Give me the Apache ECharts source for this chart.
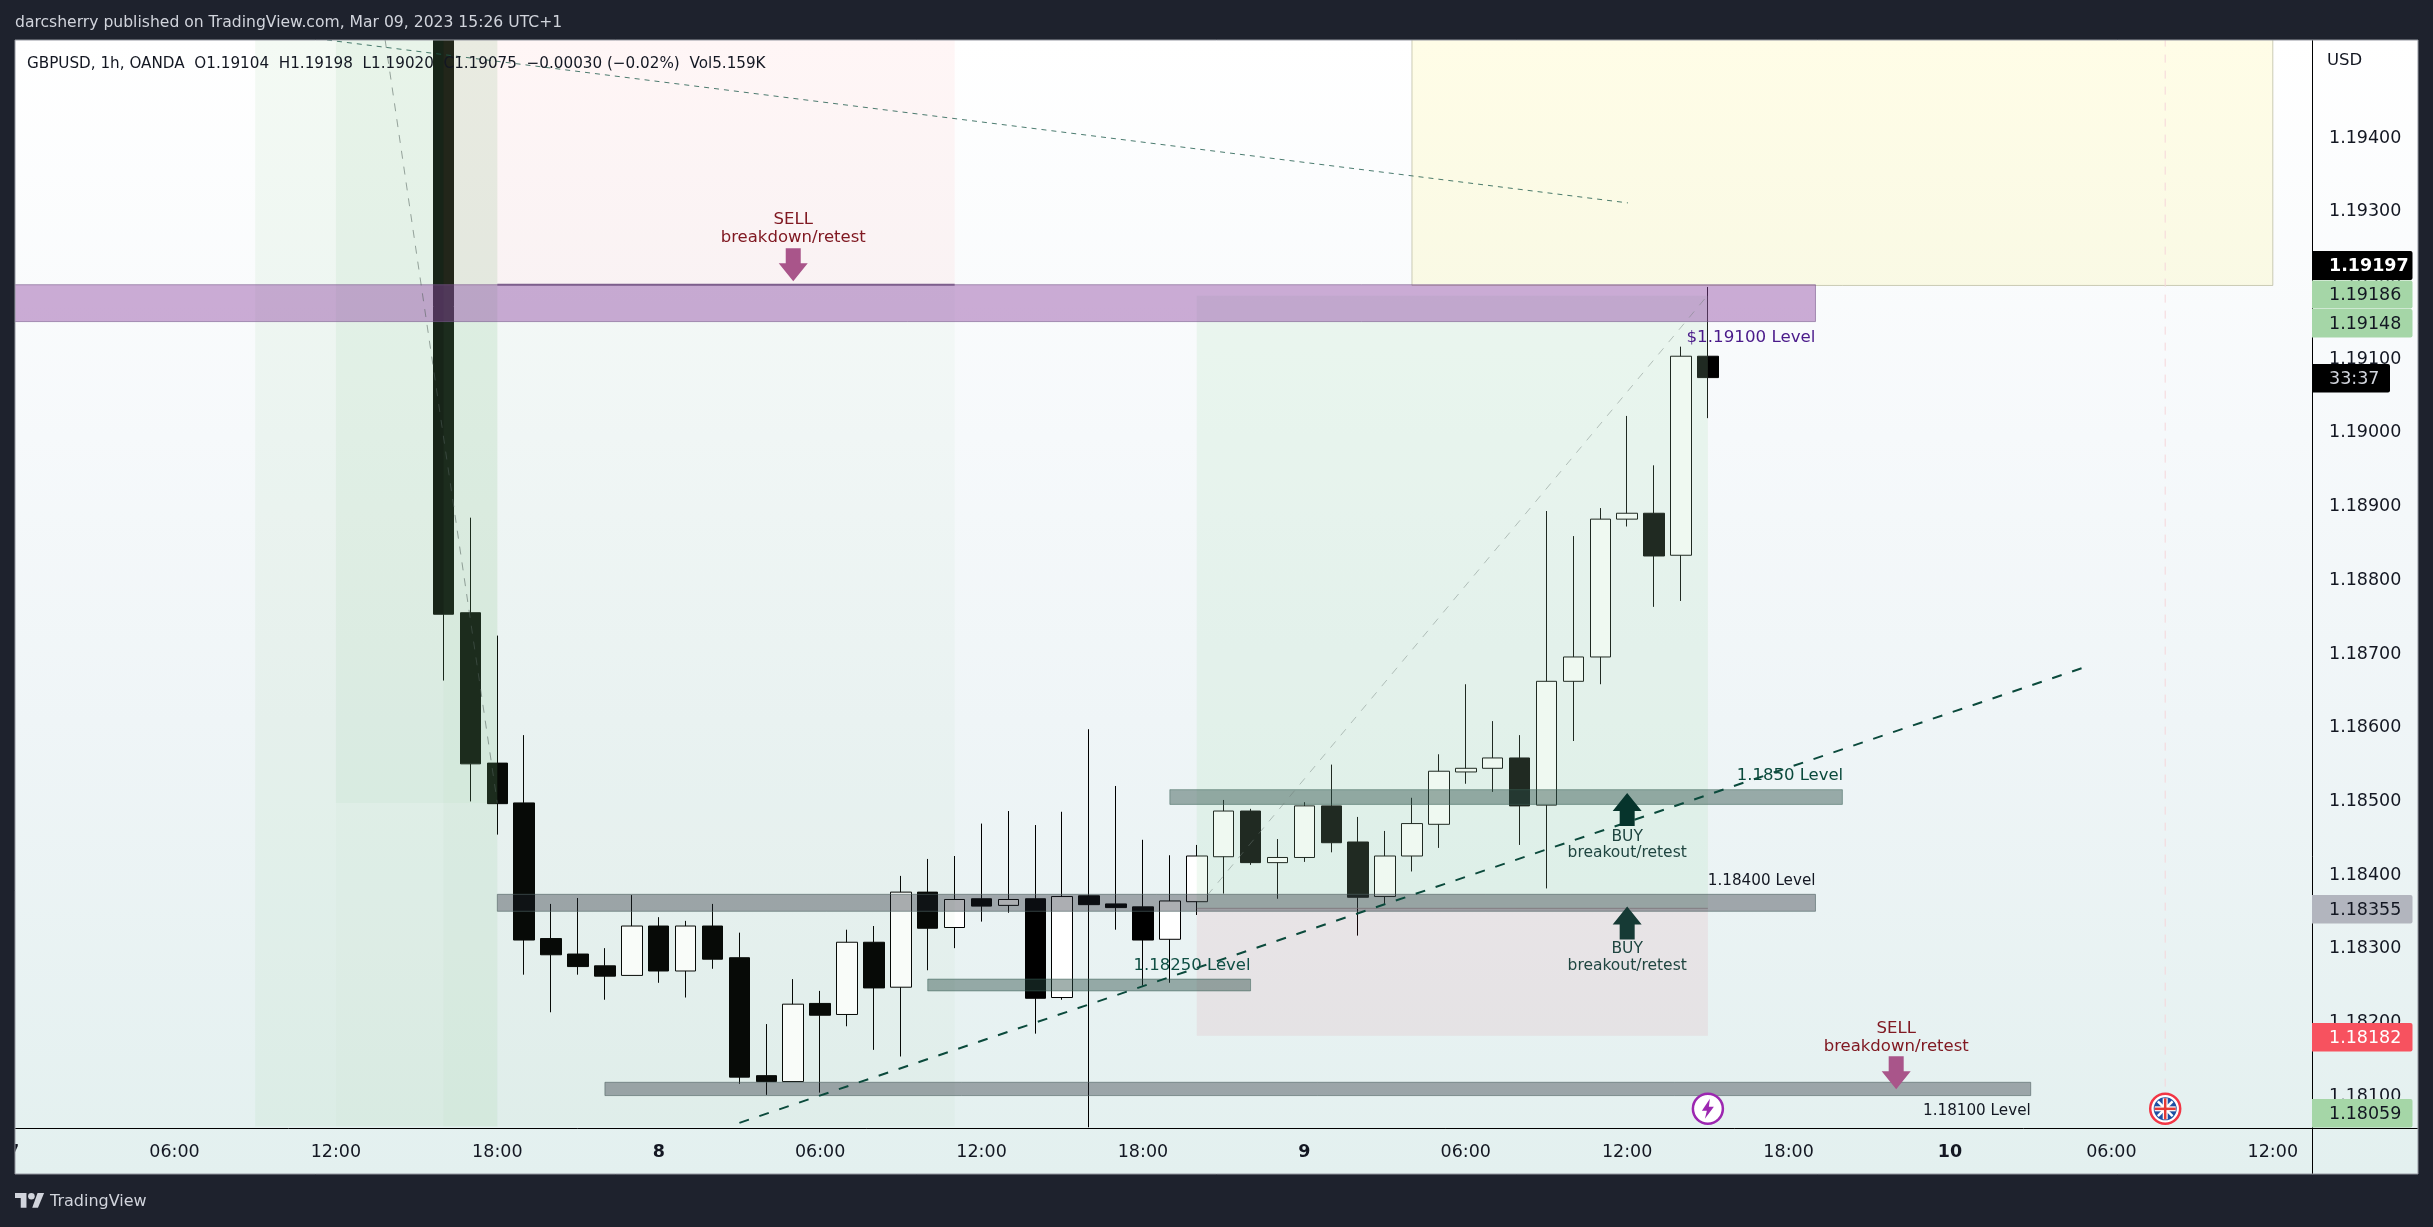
<!DOCTYPE html>
<html>
<head>
<meta charset="utf-8">
<title>GBPUSD 1h</title>
<style>
  html, body { margin: 0; padding: 0; background: #1e222d; }
  #chart { width: 2433px; height: 1227px; }
</style>
<script src="https://cdn.jsdelivr.net/npm/echarts@6/dist/echarts.min.js"></script>
</head>
<body>
<div id="chart"></div>
<script>
// x axis is hours from 8 Mar 00:00
const candleHours = [-8,-7,-6,-5,-4,-3,-2,-1,0,1,2,3,4,5,6,7,8,9,10,11,12,13,14,15,16,17,18,19,20,21,22,23,24,25,26,27,28,29,30,31,32,33,34,35,36,37,38,39]
const opens = [1.19900,1.18756,1.18552,1.18498,1.18314,1.18293,1.18277,1.18264,1.18331,1.18270,1.18331,1.18288,1.18128,1.18120,1.18226,1.18211,1.18309,1.18248,1.18377,1.18329,1.18368,1.18359,1.18368,1.18234,1.18372,1.18361,1.18357,1.18313,1.18364,1.18425,1.18487,1.18417,1.18424,1.18494,1.18445,1.18371,1.18426,1.18469,1.18540,1.18545,1.18559,1.18495,1.18663,1.18696,1.18883,1.18891,1.18834,1.19104]
const closes = [1.18754,1.18551,1.18497,1.18312,1.18292,1.18276,1.18263,1.18331,1.18270,1.18331,1.18286,1.18126,1.18120,1.18225,1.18210,1.18309,1.18247,1.18377,1.18328,1.18367,1.18358,1.18367,1.18233,1.18371,1.18360,1.18356,1.18312,1.18365,1.18426,1.18487,1.18417,1.18424,1.18494,1.18444,1.18370,1.18426,1.18470,1.18541,1.18545,1.18559,1.18494,1.18663,1.18696,1.18883,1.18891,1.18833,1.19104,1.19075]
const lows = [1.18664,1.18500,1.18455,1.18265,1.18214,1.18265,1.18231,1.18264,1.18254,1.18234,1.18273,1.18117,1.18102,1.18120,1.18105,1.18195,1.18163,1.18154,1.18271,1.18301,1.18337,1.18349,1.18185,1.18231,1.18058,1.18326,1.18250,1.18254,1.18346,1.18375,1.18414,1.18368,1.18418,1.18431,1.18318,1.18360,1.18405,1.18437,1.18524,1.18513,1.18441,1.18382,1.18582,1.18659,1.18873,1.18764,1.18772,1.19020]
const highs = [1.19950,1.18885,1.18725,1.18590,1.18361,1.18369,1.18301,1.18373,1.18343,1.18338,1.18361,1.18322,1.18198,1.18259,1.18243,1.18326,1.18331,1.18399,1.18422,1.18426,1.18470,1.18487,1.18468,1.18486,1.18598,1.18521,1.18448,1.18427,1.18441,1.18502,1.18490,1.18449,1.18499,1.18550,1.18479,1.18460,1.18505,1.18564,1.18659,1.18609,1.18590,1.18894,1.18860,1.18898,1.19023,1.18956,1.19117,1.19198]

const priceTicks = [1.181,1.182,1.183,1.184,1.185,1.186,1.187,1.188,1.189,1.190,1.191,1.192,1.193,1.194]
const timeTicks = [-24,-18,-12,-6,0,6,12,18,24,30,36,42,48,54,60]
const timeLabels = ['7','06:00','12:00','18:00','8','06:00','12:00','18:00','9','06:00','12:00','18:00','10','06:00','12:00']
const dayLabels = ['7','8','9','10']

// [hourStart, priceTop, hourEnd, priceBottom]
const zones = [
  [-15,1.196,-6,1.18059],
  [-12,1.196,-6,1.18498],
  [-12,1.18498,-6,1.18059],
  [-8,1.196,11,1.19200],
  [-8,1.19200,11,1.18059],
  [20,1.19186,39,1.18355],
  [20,1.18355,39,1.18182],
  [28,1.196,60,1.19200],
  [-30,1.19201,43,1.19151],
  [-6,1.18374,43,1.18351],
  [19,1.18516,44,1.18496],
  [10,1.18259,22,1.18243],
  [-2,1.18119,51,1.18101]
]
const zoneStyles = [
  { fill: 'rgba(128,200,133,0.09)' },
  { fill: 'rgba(128,200,133,0.10)' },
  { fill: 'rgba(128,200,133,0.03)' },
  { fill: 'rgba(255,82,82,0.05)' },
  { fill: 'rgba(128,200,133,0.05)' },
  { fill: 'rgba(168,221,179,0.19)' },
  { fill: 'rgba(220,54,80,0.08)' },
  { fill: 'rgba(255,235,59,0.12)', stroke: 'rgba(170,170,140,0.6)' },
  { fill: 'rgba(144,73,164,0.45)', stroke: 'rgba(120,90,140,0.6)' },
  { fill: 'rgba(30,34,45,0.37)', stroke: 'rgba(80,100,100,0.6)' },
  { fill: 'rgba(40,75,68,0.44)', stroke: 'rgba(60,100,90,0.5)' },
  { fill: 'rgba(40,75,68,0.44)', stroke: 'rgba(60,100,90,0.5)' },
  { fill: 'rgba(30,34,45,0.37)', stroke: 'rgba(80,100,100,0.6)' }
]

const trendLine = [[3,1.18064],[53,1.18682]]
const topDash = [[-12.33,1.19533],[36.03,1.19312]]
const shortDiagonal = [[-10.17,1.19533],[-6,1.18498]]
const longDiagonal = [[20.4,1.18373],[39,1.19187]]
const shortEntry = [[-6,1.19201],[11,1.19201]]
const longEntry = [[20,1.18355],[39,1.18355]]
const eventLine = [[56,1.196],[56,1.18083]]

// [hour, price, text]
const levelNotes = [
  [5,1.19278,'SELL\nbreakdown/retest'],
  [46,1.18181,'SELL\nbreakdown/retest'],
  [36,1.18442,'BUY\nbreakout/retest'],
  [36,1.18290,'BUY\nbreakout/retest'],
  [44.03,1.18536,'1.1850 Level'],
  [43,1.18393,'1.18400 Level'],
  [22,1.18278,'1.18250 Level'],
  [43,1.19130,'$1.19100 Level'],
  [51,1.18082,'1.18100 Level']
]
const noteStyles = [
  { color: '#801922', size: 16.5, lh: 18 },
  { color: '#801922', size: 16.5, lh: 18 },
  { color: '#1f4540', size: 15.5, lh: 16 },
  { color: '#1f4540', size: 15.5, lh: 17 },
  { color: '#0a4a3c', size: 16.5, align: 'right' },
  { color: '#131722', size: 15.2, align: 'right' },
  { color: '#0f4f44', size: 16.5, align: 'right' },
  { color: '#4a1a8a', size: 16.7, align: 'right' },
  { color: '#131722', size: 15.2, align: 'right' }
]

const sellArrows = [[5,1.19228],[46,1.18132]]
const buyArrows = [[36,1.18489]]
const buyArrowsFaded = [[36,1.18335]]
const events = [[39,1.18083],[56,1.18083]]

const FONT = '"DejaVu Sans"'
const ARROW_UP = 'path://M14.5 0L0 18L7 18L7 33L22 33L22 18L29 18Z'
const chart = echarts.init(document.getElementById('chart'), null, { renderer: 'canvas' })

function renderZone(params, api) {
  const a = api.coord([api.value(0), api.value(1)])
  const b = api.coord([api.value(2), api.value(3)])
  const st = zoneStyles[params.dataIndex]
  return {
    type: 'rect',
    shape: { x: a[0], y: a[1], width: b[0] - a[0], height: b[1] - a[1] },
    style: { fill: st.fill, stroke: st.stroke || null, lineWidth: 1 }
  }
}

function renderNote(params, api) {
  const p = api.coord([api.value(0), api.value(1)])
  const st = noteStyles[params.dataIndex]
  return {
    type: 'text',
    x: p[0],
    y: p[1] + 1,
    style: {
      text: levelNotes[params.dataIndex][2],
      fill: st.color,
      font: st.size + 'px ' + FONT,
      lineHeight: st.lh || 18,
      align: st.align || 'center',
      verticalAlign: 'middle'
    }
  }
}

function renderEvent(params, api) {
  const p = api.coord([api.value(0), api.value(1)])
  const x = p[0], y = p[1]
  if (params.dataIndex === 0) {
    return {
      type: 'group',
      children: [
        { type: 'circle', shape: { cx: x, cy: y, r: 15 }, style: { fill: '#fff', stroke: '#9c27b0', lineWidth: 2.5 } },
        { type: 'polygon', shape: { points: [[x + 2, y - 10], [x - 6, y + 2], [x - 1, y + 2], [x - 3, y + 10], [x + 6, y - 2], [x + 1, y - 2]] }, style: { fill: '#9c27b0' } }
      ]
    }
  }
  const r = 10.5, d = r * 0.7
  return {
    type: 'group',
    children: [
      { type: 'circle', shape: { cx: x, cy: y, r: 15 }, style: { fill: '#fff', stroke: '#f23645', lineWidth: 2.5 } },
      { type: 'circle', shape: { cx: x, cy: y, r: r + 1 }, style: { fill: '#1e4fa3' } },
      { type: 'line', shape: { x1: x - d, y1: y - d, x2: x + d, y2: y + d }, style: { stroke: '#fff', lineWidth: 2.5 } },
      { type: 'line', shape: { x1: x - d, y1: y + d, x2: x + d, y2: y - d }, style: { stroke: '#fff', lineWidth: 2.5 } },
      { type: 'line', shape: { x1: x - r, y1: y, x2: x + r, y2: y }, style: { stroke: '#fff', lineWidth: 5 } },
      { type: 'line', shape: { x1: x, y1: y - r, x2: x, y2: y + r }, style: { stroke: '#fff', lineWidth: 5 } },
      { type: 'line', shape: { x1: x - r, y1: y, x2: x + r, y2: y }, style: { stroke: '#e53935', lineWidth: 2.5 } },
      { type: 'line', shape: { x1: x, y1: y - r, x2: x, y2: y + r }, style: { stroke: '#e53935', lineWidth: 2.5 } }
    ]
  }
}

function lineSeries(points, color, width, dash) {
  return {
    type: 'line',
    data: points,
    z: 6,
    symbol: 'none',
    silent: true,
    lineStyle: { color: color, width: width, type: dash || 'solid' }
  }
}

function arrowSeries(points, color, rotate) {
  return {
    type: 'scatter',
    data: points,
    z: 7,
    silent: true,
    symbol: ARROW_UP,
    symbolSize: [29, 33],
    symbolKeepAspect: false,
    symbolRotate: rotate,
    itemStyle: { color: color, opacity: 1 }
  }
}

function priceTag(top, bottom, right, fill, text, textColor, bold) {
  return [
    { type: 'rect', z: 50, silent: true, shape: { x: 2312, y: top, width: right - 2312, height: bottom - top, r: [0, 2, 2, 0] }, style: { fill: fill } },
    { type: 'text', z: 51, silent: true, x: 2329, y: (top + bottom) / 2 + 1, style: { text: text, fill: textColor, font: (bold ? '600 ' : '') + '17.5px ' + FONT, verticalAlign: 'middle' } }
  ]
}

// TradingView mark, bottom left of the frame
const logoX = 15, logoY = 1193, logoScale = 0.82
function logoPt(x, y) { return [logoX + x * logoScale, logoY + (y - 6) * logoScale] }

const frameColor = '#1e222d'
const graphics = [
  { type: 'rect', z: -10, silent: true, shape: { x: 0, y: 0, width: 2433, height: 1227 },
    style: { fill: new echarts.graphic.LinearGradient(0, 40, 0, 1174, [
      { offset: 0, color: '#ffffff' },
      { offset: 0.35, color: '#f6f9fb' },
      { offset: 0.6, color: '#eff5f7' },
      { offset: 1, color: '#e3f0ef' }
    ], true) } },
  { type: 'rect', z: 100, silent: true, shape: { x: 0, y: 0, width: 2433, height: 40 }, style: { fill: frameColor } },
  { type: 'rect', z: 100, silent: true, shape: { x: 0, y: 1174, width: 2433, height: 53 }, style: { fill: frameColor } },
  { type: 'rect', z: 100, silent: true, shape: { x: 0, y: 0, width: 15, height: 1227 }, style: { fill: frameColor } },
  { type: 'rect', z: 100, silent: true, shape: { x: 2418, y: 0, width: 15, height: 1227 }, style: { fill: frameColor } },
  { type: 'rect', z: 101, silent: true, shape: { x: 15, y: 40, width: 2403, height: 1134 }, style: { fill: null, stroke: '#9598a1', lineWidth: 1 } },
  // axis lines carry on past the plot corner
  { type: 'line', z: 40, silent: true, shape: { x1: 2312, y1: 1128.5, x2: 2418, y2: 1128.5 }, style: { stroke: '#000', lineWidth: 1 } },
  { type: 'line', z: 40, silent: true, shape: { x1: 2312.5, y1: 1128, x2: 2312.5, y2: 1174 }, style: { stroke: '#000', lineWidth: 1 } },
  { type: 'text', z: 102, silent: true, x: 15, y: 23, style: { text: 'darcsherry published on TradingView.com, Mar 09, 2023 15:26 UTC+1', fill: '#d1d4dc', font: '15.6px ' + FONT, verticalAlign: 'middle' } },
  { type: 'text', z: 30, silent: true, x: 27, y: 64, style: { text: 'GBPUSD, 1h, OANDA  O1.19104  H1.19198  L1.19020  C1.19075  \u22120.00030 (\u22120.02%)  Vol5.159K', fill: '#131722', font: '15.2px ' + FONT, verticalAlign: 'middle' } },
  { type: 'text', z: 30, silent: true, x: 2327, y: 61, style: { text: 'USD', fill: '#131722', font: '16.5px ' + FONT, verticalAlign: 'middle' } },
  { type: 'polygon', z: 102, silent: true, shape: { points: [[0,6],[14,6],[14,24],[7,24],[7,12],[0,12]].map(p => logoPt(p[0], p[1])) }, style: { fill: '#d1d4dc' } },
  { type: 'polygon', z: 102, silent: true, shape: { points: [[28,24],[21,24],[27.5,6],[35.5,6]].map(p => logoPt(p[0], p[1])) }, style: { fill: '#d1d4dc' } },
  { type: 'circle', z: 102, silent: true, shape: { cx: logoPt(20, 10)[0], cy: logoPt(20, 10)[1], r: 3.3 }, style: { fill: '#d1d4dc' } },
  { type: 'text', z: 102, silent: true, x: 50, y: 1202, style: { text: 'TradingView', fill: '#d1d4dc', font: '16px ' + FONT, verticalAlign: 'middle' } }
].concat(
  priceTag(251, 280, 2412.5, '#000000', '1.19197', '#ffffff', true),
  priceTag(280.5, 308.5, 2412.5, '#a5d6a7', '1.19186', '#131722'),
  priceTag(309, 337.5, 2412.5, '#a5d6a7', '1.19148', '#131722'),
  priceTag(364, 392.5, 2390, '#000000', '33:37', '#d1d4dc'),
  priceTag(895, 923.5, 2412.5, '#b2b5be', '1.18355', '#131722'),
  priceTag(1023, 1051.5, 2412.5, '#f7525f', '1.18182', '#ffffff'),
  priceTag(1099, 1127.5, 2412.5, '#a5d6a7', '1.18059', '#131722')
)

chart.setOption({
  animation: false,
  backgroundColor: 'transparent',
  tooltip: { show: false },
  legend: { show: false },
  graphic: { elements: graphics },
  grid: { left: 0, top: 40, width: 2312, height: 1088, containLabel: false, outerBoundsMode: 'none' },
  xAxis: {
    type: 'value',
    min: -24.487,
    max: 61.457,
    splitLine: { show: false },
    axisLine: { show: true, onZero: false, lineStyle: { color: '#000', width: 1 } },
    axisTick: { show: false },
    axisLabel: {
      customValues: timeTicks,
      margin: 15,
      color: '#131722',
      fontFamily: FONT,
      fontSize: 17.5,
      showMinLabel: true,
      showMaxLabel: true,
      hideOverlap: false,
      formatter: function (v) {
        const text = timeLabels[timeTicks.indexOf(v)]
        return dayLabels.indexOf(text) >= 0 ? '{day|' + text + '}' : text
      },
      rich: { day: { fontFamily: FONT, fontSize: 17.5, fontWeight: 'bold', color: '#131722' } }
    }
  },
  yAxis: {
    type: 'value',
    position: 'right',
    scale: true,
    min: 1.18057,
    max: 1.19533,
    splitLine: { show: false },
    axisLine: { show: true, onZero: false, lineStyle: { color: '#000', width: 1 } },
    axisTick: { show: false },
    axisLabel: {
      customValues: priceTicks,
      margin: 17,
      padding: [2, 0, 0, 0],
      color: '#131722',
      fontFamily: FONT,
      fontSize: 17.5,
      hideOverlap: false,
      formatter: function (v) { return v.toFixed(5) }
    }
  },
  series: [
    {
      type: 'candlestick',
      z: 2,
      silent: true,
      clip: true,
      barWidth: 21,
      encode: { x: 0, y: [1, 2, 3, 4] },
      data: candleHours.map((h, i) => [h, opens[i], closes[i], lows[i], highs[i]]),
      itemStyle: { color: '#ffffff', color0: '#000000', borderColor: '#000000', borderColor0: '#000000', borderWidth: 1 }
    },
    {
      type: 'custom',
      z: 5,
      silent: true,
      clip: true,
      renderItem: renderZone,
      encode: { x: [0, 2], y: [1, 3] },
      data: zones
    },
    lineSeries(topDash, 'rgba(30,90,75,0.8)', 1, [5, 5]),
    lineSeries(shortDiagonal, 'rgba(80,95,90,0.55)', 1, [8, 8]),
    lineSeries(longDiagonal, 'rgba(110,125,120,0.45)', 1, [8, 8]),
    lineSeries(eventLine, '#f6d5da', 1, [8, 8]),
    lineSeries(shortEntry, '#7d5f8c', 2),
    lineSeries(longEntry, 'rgba(120,110,115,0.7)', 1),
    lineSeries(trendLine, '#0b4a3c', 2, [10, 11]),
    arrowSeries(sellArrows, '#a9558a', 180),
    arrowSeries(buyArrows, '#06342c', 0),
    arrowSeries(buyArrowsFaded, '#163a35', 0),
    {
      type: 'custom',
      z: 8,
      silent: true,
      renderItem: renderNote,
      encode: { x: 0, y: 1 },
      data: levelNotes.map(n => [n[0], n[1]])
    },
    {
      type: 'custom',
      z: 9,
      silent: true,
      renderItem: renderEvent,
      encode: { x: 0, y: 1 },
      data: events
    }
  ]
})
</script>
</body>
</html>
